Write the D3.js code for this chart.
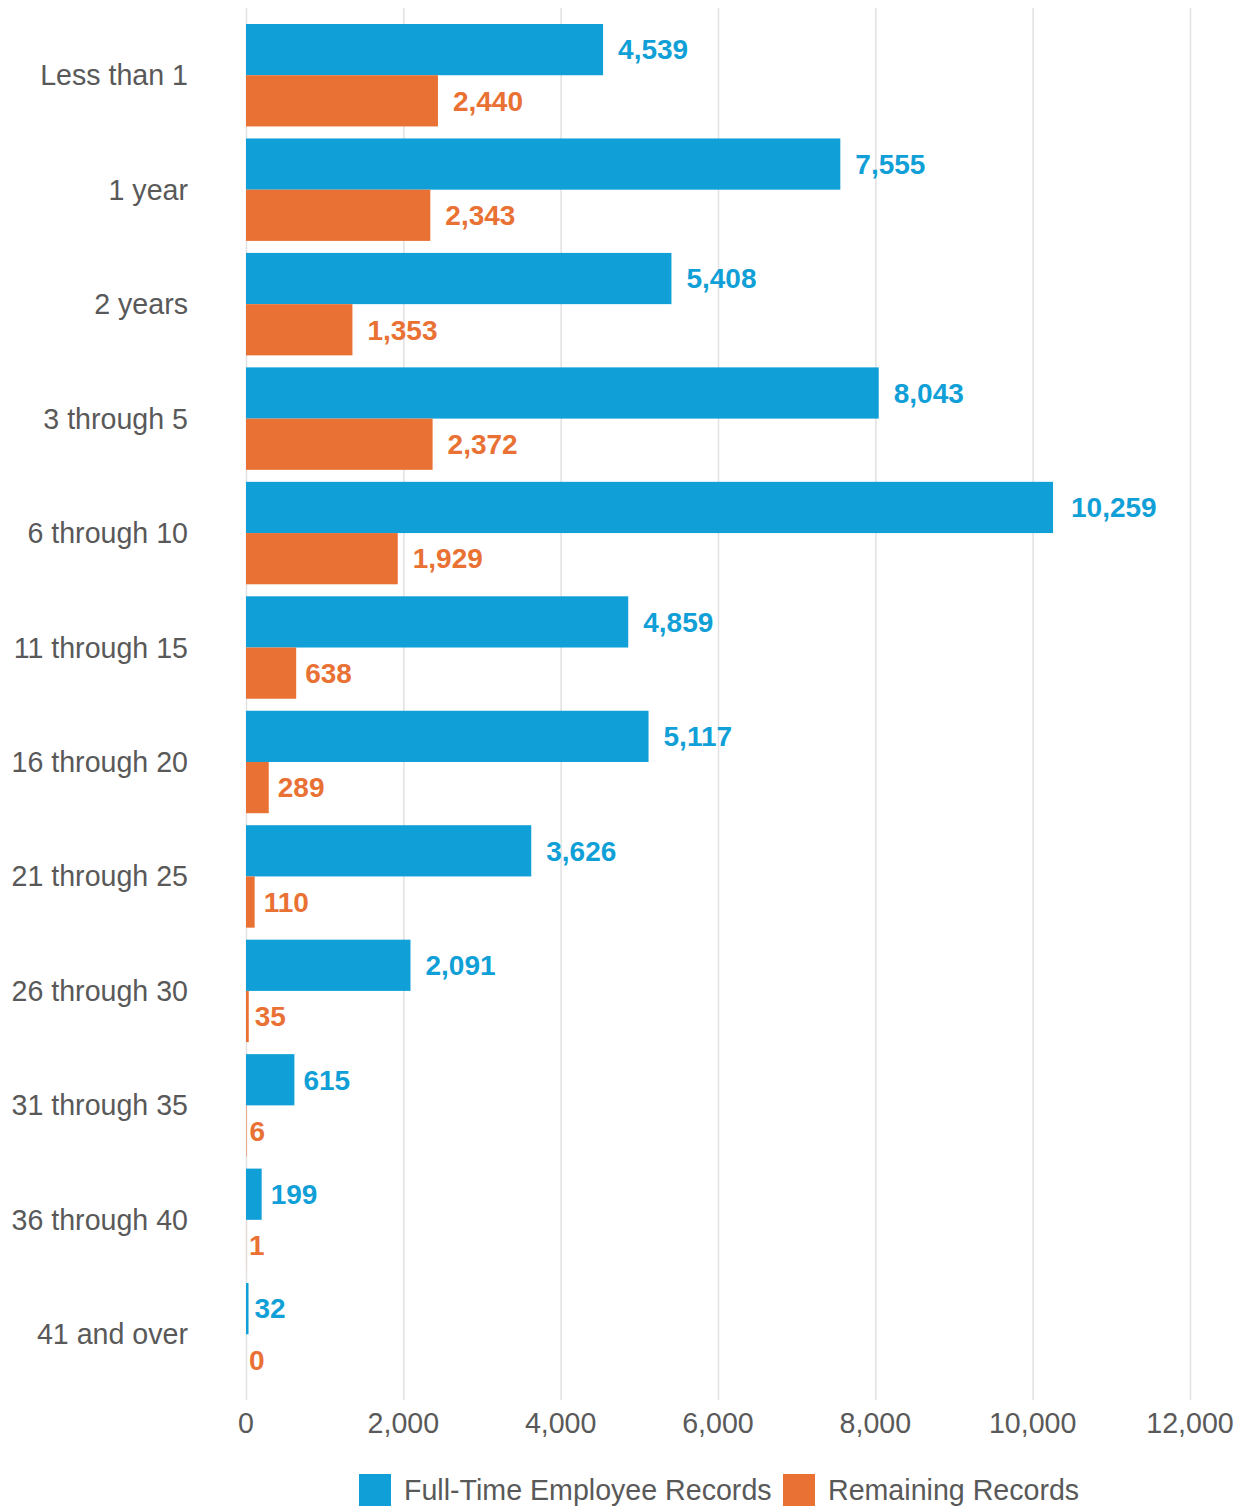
<!DOCTYPE html>
<html>
<head>
<meta charset="utf-8">
<script src="https://cdn.jsdelivr.net/npm/d3@7"></script>
<style>
  body { margin: 0; background: #fff; }
  text { font-family: "Liberation Sans", Arial, sans-serif; }
</style>
</head>
<body>
<div id="viz"></div>
<script>
var width = 1246;
var height = 1507;

var categories = ['Less than 1', '1 year', '2 years', '3 through 5', '6 through 10', '11 through 15',
  '16 through 20', '21 through 25', '26 through 30', '31 through 35', '36 through 40', '41 and over'];
var fullTime = [4539, 7555, 5408, 8043, 10259, 4859, 5117, 3626, 2091, 615, 199, 32];
var remaining = [2440, 2343, 1353, 2372, 1929, 638, 289, 110, 35, 6, 1, 0];
var ticks = [0, 2000, 4000, 6000, 8000, 10000, 12000];
var seriesNames = ['Full-Time Employee Records', 'Remaining Records'];

var colors = ['#109fd6', '#e97134'];
var textColor = '#595959';
var fontSize = '28.6px';

var x = d3.scaleLinear().domain([0, 12000]).range([246, 1190]);
var y = d3.scaleBand().domain(categories).range([24, 1385.5]).paddingInner(0.105).paddingOuter(0);
var sub = d3.scaleBand().domain([0, 1]).range([0, y.bandwidth()]);

var fmt = d3.format(',');

var svg = d3.select('#viz').append('svg')
  .attr('width', width)
  .attr('height', height);

// grid
svg.append('g').selectAll('line')
  .data(ticks).enter()
  .append('line')
  .attr('x1', function (d) { return x(d) + 0.5; })
  .attr('x2', function (d) { return x(d) + 0.5; })
  .attr('y1', 8)
  .attr('y2', 1400)
  .style('stroke', '#e1e1e1')
  .style('stroke-width', 1.5);

// tick labels
svg.append('g').selectAll('text')
  .data(ticks).enter()
  .append('text')
  .attr('x', function (d) { return x(d); })
  .attr('y', 1423)
  .attr('dy', '0.35em')
  .attr('text-anchor', 'middle')
  .style('font-size', fontSize)
  .style('fill', textColor)
  .text(function (d) { return fmt(d); });

// category labels
svg.append('g').selectAll('text')
  .data(categories).enter()
  .append('text')
  .attr('x', 188)
  .attr('y', function (d) { return y(d) + y.bandwidth() / 2; })
  .attr('dy', '0.35em')
  .attr('text-anchor', 'end')
  .style('font-size', fontSize)
  .style('fill', textColor)
  .text(function (d) { return d; });

var rows = categories.map(function (c, i) {
  return { cat: c, vals: [fullTime[i], remaining[i]] };
});

var group = svg.selectAll('g.row')
  .data(rows).enter()
  .append('g')
  .attr('class', 'row')
  .attr('transform', function (d) { return 'translate(0,' + y(d.cat) + ')'; });

var cells = group.selectAll('g.cell')
  .data(function (d) { return d.vals.map(function (v, k) { return { v: v, k: k }; }); })
  .enter().append('g');

cells.append('rect')
  .attr('x', x(0))
  .attr('y', function (d) { return sub(d.k); })
  .attr('width', function (d) { return x(d.v) - x(0); })
  .attr('height', sub.bandwidth())
  .style('fill', function (d) { return colors[d.k]; });

cells.append('text')
  .attr('x', function (d) { return x(d.v) + 3 * fmt(d.v).length; })
  .attr('y', function (d) { return sub(d.k) + sub.bandwidth() / 2; })
  .attr('dy', '0.35em')
  .style('font-size', '28px')
  .style('font-weight', 'bold')
  .style('fill', function (d) { return colors[d.k]; })
  .text(function (d) { return fmt(d.v); });

// legend
var legendX = [359, 783];
var legend = svg.append('g').selectAll('g')
  .data(seriesNames).enter()
  .append('g')
  .attr('transform', function (d, i) { return 'translate(' + legendX[i] + ',1474)'; });

legend.append('rect')
  .attr('width', 32)
  .attr('height', 32)
  .style('fill', function (d, i) { return colors[i]; });

legend.append('text')
  .attr('x', 45)
  .attr('y', 16)
  .attr('dy', '0.35em')
  .style('font-size', fontSize)
  .style('fill', textColor)
  .text(function (d) { return d; });
</script>
</body>
</html>
